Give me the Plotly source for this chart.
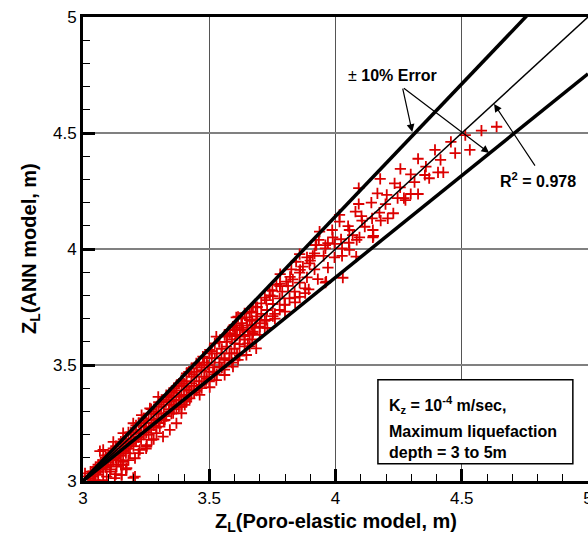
import plotly.graph_objects as go

# ---- data ----
poro_elastic_z = [
    # upper cloud
    4.514, 4.578, 4.638, 4.457, 4.532, 4.474, 4.394, 4.327, 4.416, 4.358, 4.257, 4.298,
    4.406, 4.427, 4.354, 4.371, 4.313, 4.234, 4.256, 4.298, 4.327, 4.246, 4.271,
    4.177, 4.092, 4.166, 4.203, 4.277, 4.142, 4.092, 4.198, 4.079, 4.174, 4.229, 4.103,
    4.145, 4.179, 4.207, 4.016, 4.016, 4.105, 4.050, 4.116, 4.148, 4.055, 3.987, 3.937,
    4.068, 4.095, 4.148, 3.989, 4.022, 4.084, 3.934, 4.053, 3.970, 3.996, 3.921, 3.960,
    4.026, 4.055, 3.910, 3.953, 3.996, 4.026, 4.082, 4.029, 3.963, 4.150,
    # middle band
    3.924, 3.960, 3.917, 3.858, 3.887, 3.844, 3.897, 3.871, 3.917, 3.825, 3.858, 3.781,
    3.887, 3.831, 3.805, 3.858, 3.960, 3.766, 3.812, 3.894, 3.739, 3.789, 3.838, 3.752,
    3.726, 3.779, 3.818, 3.858, 3.706, 3.752, 3.798, 3.684, 3.729, 3.779, 3.667, 3.706,
    3.752, 3.647, 3.686, 3.726, 3.607, 3.627, 3.667, 3.700, 3.594, 3.621, 3.653, 3.581,
    3.605, 3.640, 3.568, 3.673,
    3.673, 3.614, 3.640, 3.660, 3.607, 3.581, 3.634, 3.673, 3.621, 3.561, 3.528, 3.653,
    3.601, 3.686, 3.568, 3.522, 3.502, 3.548, 3.588, 3.647, 3.475, 3.522, 3.561, 3.614,
    3.449, 3.495, 3.541, 3.594, 3.430, 3.469, 3.515, 3.561, 3.410, 3.449, 3.489, 3.528,
    3.390, 3.430, 3.469, 3.502, 3.370, 3.410, 3.449, 3.462, 3.351, 3.390, 3.423, 3.331,
    3.370, 3.410, 3.311, 3.344, 3.390,
    # lower dense cloud
    3.410, 3.383, 3.351, 3.403, 3.357, 3.390, 3.298, 3.324, 3.272, 3.370, 3.304, 3.245,
    3.344, 3.291, 3.225, 3.317, 3.272, 3.199, 3.252, 3.225, 3.173, 3.186, 3.146, 3.206,
    3.120, 3.159, 3.080, 3.094, 3.133, 3.173, 3.067, 3.107, 3.153, 3.041, 3.060, 3.206,
    3.028, 3.094, 3.126, 3.008, 3.047, 3.080, 3.199, 3.153, 3.067, 3.252, 3.159,
    3.298, 3.265, 3.232, 3.199, 3.159, 3.120,
    # extra points filling the dense band
    3.02, 3.03, 3.04, 3.05, 3.06, 3.07, 3.08, 3.09, 3.10, 3.11, 3.12, 3.13, 3.14, 3.15,
    3.16, 3.17, 3.18, 3.19, 3.20, 3.21, 3.22, 3.23, 3.24, 3.25, 3.26, 3.27, 3.28, 3.29,
    3.30, 3.31, 3.32, 3.33, 3.34, 3.35, 3.36, 3.37, 3.38, 3.39, 3.40, 3.41, 3.42, 3.43,
    3.44, 3.45, 3.46, 3.47, 3.48, 3.49, 3.50, 3.51, 3.52, 3.53, 3.54, 3.55, 3.56, 3.57,
    3.58, 3.59, 3.60, 3.61, 3.62, 3.63, 3.64, 3.65, 3.66, 3.67, 3.68, 3.69, 3.70,
    3.05, 3.08, 3.10, 3.13, 3.16, 3.19, 3.22, 3.26, 3.30, 3.34, 3.38, 3.42, 3.46, 3.50,
    3.54, 3.58,
    3.05, 3.08, 3.11, 3.14, 3.17, 3.20, 3.23, 3.26, 3.29, 3.32, 3.35, 3.38, 3.41, 3.44,
    3.47, 3.50, 3.53, 3.56, 3.59, 3.62, 3.66, 3.72, 3.76, 3.80, 3.84, 3.88,
    3.74, 3.78, 3.82, 3.86, 3.90, 3.72, 3.76, 3.80, 3.84, 3.88, 3.93, 3.97,
    3.03, 3.06, 3.09, 3.12, 3.15, 3.18, 3.21, 3.24, 3.27, 3.30, 3.33, 3.36, 3.39, 3.42,
    3.45, 3.48, 3.51, 3.54, 3.57, 3.60, 3.63, 3.66, 3.69, 3.72, 3.75, 3.78,
    3.04, 3.07, 3.10, 3.13, 3.16, 3.19, 3.22, 3.25, 3.28, 3.31, 3.34, 3.37, 3.40, 3.43,
    3.46, 3.49, 3.52, 3.55, 3.58, 3.61, 3.64, 3.67, 3.70, 3.73,
    3.11, 3.15, 3.18, 3.22, 3.25, 3.28, 3.13, 3.17,
    3.06, 3.09, 3.12, 3.15, 3.18, 3.21, 3.24, 3.27, 3.30, 3.33, 3.36, 3.39, 3.12, 3.16,
    3.20, 3.24, 3.28, 3.32, 3.36, 3.40, 3.44, 3.48,
]
ann_z = [
    4.491, 4.510, 4.527, 4.462, 4.427, 4.413, 4.427, 4.389, 4.384, 4.355, 4.345, 4.322,
    4.330, 4.330, 4.319, 4.305, 4.288, 4.283, 4.266, 4.237, 4.237, 4.219, 4.219,
    4.302, 4.262, 4.240, 4.233, 4.211, 4.200, 4.194, 4.193, 4.161, 4.157, 4.154, 4.142,
    4.132, 4.122, 4.132, 4.147, 4.118, 4.122, 4.099, 4.096, 4.082, 4.082, 4.082, 4.075,
    4.060, 4.050, 4.050, 4.050, 4.042, 4.039, 4.039, 4.027, 4.025, 4.022, 4.017, 4.003,
    4.003, 3.996, 3.970, 3.970, 3.964, 3.970, 3.967, 3.876, 3.859, 4.056,
    4.017, 4.017, 3.981, 3.978, 3.964, 3.945, 3.938, 3.924, 3.912, 3.912, 3.898, 3.892,
    3.878, 3.869, 3.859, 3.855, 3.855, 3.845, 3.841, 3.826, 3.823, 3.816, 3.816, 3.797,
    3.780, 3.787, 3.787, 3.794, 3.766, 3.763, 3.759, 3.749, 3.737, 3.737, 3.726, 3.720,
    3.711, 3.705, 3.697, 3.694, 3.705, 3.680, 3.672, 3.665, 3.665, 3.651, 3.644, 3.637,
    3.625, 3.625, 3.622, 3.637,
    3.751, 3.708, 3.723, 3.694, 3.672, 3.651, 3.651, 3.644, 3.622, 3.629, 3.622, 3.593,
    3.593, 3.572, 3.579, 3.593, 3.565, 3.550, 3.550, 3.543, 3.536, 3.529, 3.522, 3.522,
    3.507, 3.500, 3.493, 3.493, 3.486, 3.478, 3.471, 3.457, 3.464, 3.450, 3.443, 3.435,
    3.435, 3.421, 3.414, 3.404, 3.409, 3.395, 3.389, 3.371, 3.385, 3.371, 3.356, 3.363,
    3.349, 3.342, 3.342, 3.328, 3.320,
    3.406, 3.363, 3.342, 3.328, 3.292, 3.292, 3.292, 3.263, 3.263, 3.249, 3.234, 3.234,
    3.220, 3.206, 3.206, 3.191, 3.177, 3.177, 3.155, 3.134, 3.148, 3.119, 3.119, 3.098,
    3.091, 3.083, 3.134, 3.069, 3.062, 3.055, 3.055, 3.040, 3.026, 3.040, 3.026, 3.019,
    3.019, 3.019, 3.012, 3.033, 3.004, 3.004, 3.014, 3.026, 3.129, 3.148, 3.070,
    3.363, 3.313, 3.284, 3.249, 3.206, 3.169,
    3.02, 3.01, 3.04, 3.05, 3.04, 3.08, 3.06, 3.10, 3.08, 3.12, 3.10, 3.14, 3.11, 3.16,
    3.13, 3.18, 3.15, 3.20, 3.17, 3.22, 3.19, 3.24, 3.21, 3.26, 3.23, 3.29, 3.25, 3.30,
    3.27, 3.32, 3.29, 3.35, 3.31, 3.36, 3.33, 3.39, 3.35, 3.41, 3.37, 3.43, 3.39, 3.45,
    3.41, 3.47, 3.43, 3.49, 3.45, 3.51, 3.47, 3.53, 3.49, 3.55, 3.51, 3.57, 3.53, 3.60,
    3.55, 3.61, 3.57, 3.63, 3.59, 3.66, 3.61, 3.67, 3.63, 3.69, 3.66, 3.71, 3.68,
    3.06, 3.09, 3.11, 3.15, 3.18, 3.21, 3.25, 3.29, 3.33, 3.37, 3.42, 3.47, 3.51, 3.55,
    3.60, 3.65,
    3.03, 3.05, 3.07, 3.09, 3.12, 3.15, 3.18, 3.20, 3.23, 3.26, 3.29, 3.32, 3.35, 3.38,
    3.40, 3.43, 3.46, 3.48, 3.51, 3.54, 3.58, 3.66, 3.70, 3.73, 3.77, 3.81,
    3.80, 3.84, 3.88, 3.91, 3.95, 3.69, 3.72, 3.76, 3.79, 3.83, 3.87, 3.92,
    3.04, 3.07, 3.11, 3.14, 3.17, 3.21, 3.24, 3.27, 3.31, 3.34, 3.37, 3.40, 3.43, 3.47,
    3.50, 3.53, 3.56, 3.60, 3.63, 3.66, 3.70, 3.73, 3.75, 3.79, 3.82, 3.85,
    3.02, 3.05, 3.08, 3.10, 3.13, 3.16, 3.19, 3.21, 3.24, 3.27, 3.30, 3.32, 3.35, 3.38,
    3.41, 3.44, 3.46, 3.49, 3.52, 3.55, 3.58, 3.61, 3.63, 3.66,
    3.05, 3.07, 3.09, 3.12, 3.14, 3.18, 3.03, 3.05,
    3.04, 3.06, 3.09, 3.11, 3.14, 3.17, 3.20, 3.22, 3.25, 3.28, 3.31, 3.33, 3.13, 3.17,
    3.21, 3.25, 3.29, 3.34, 3.38, 3.42, 3.46, 3.50,
]

# reference lines: 1:1 line and the +/-10% error envelope
one_to_one_x = [3.0, 5.0]
one_to_one_y = [3.0, 5.0]
upper_x = [3.0, 5.0]
upper_y = [3.0, 5.282]
lower_x = [3.0, 5.0]
lower_y = [3.0, 4.755]

tick_vals = [3, 3.5, 4, 4.5, 5]
tick_text = ["3", "3.5", "4", "4.5", "5"]

FONT = "Liberation Sans, Arial, Helvetica, sans-serif"

fig = go.Figure()
fig.add_trace(go.Scatter(x=poro_elastic_z, y=ann_z, mode="markers",
                         marker=dict(symbol="cross-thin", size=8, color="rgb(220,0,0)",
                                     line=dict(width=1.8, color="rgb(220,0,0)")),
                         showlegend=False))
fig.add_trace(go.Scatter(x=one_to_one_x, y=one_to_one_y, mode="lines",
                         line=dict(color="black", width=1.5), showlegend=False))
fig.add_trace(go.Scatter(x=upper_x, y=upper_y, mode="lines",
                         line=dict(color="black", width=3.5), showlegend=False))
fig.add_trace(go.Scatter(x=lower_x, y=lower_y, mode="lines",
                         line=dict(color="black", width=3.5), showlegend=False))

axis_common = dict(
    tickvals=tick_vals, ticktext=tick_text,
    ticks="inside", ticklen=12, tickwidth=3, tickcolor="black",
    showline=True, linewidth=3, linecolor="black",
    tickfont=dict(family=FONT, size=17, color="black"),
    minor=dict(dtick=0.1, ticks="inside", ticklen=7, tickwidth=1, tickcolor="black",
               showgrid=False),
    zeroline=False,
    automargin=False,
    ticklabeloverflow="allow",
)

fig.update_xaxes(range=[3, 5], showgrid=True, gridcolor="#555555", gridwidth=1,
                 mirror=True, **axis_common)
fig.update_yaxes(range=[3, 5], showgrid=True, gridcolor="#808080", gridwidth=1.5,
                 mirror=False, **axis_common)

fig.update_layout(
    width=588, height=541,
    margin=dict(l=83, r=0, t=17, b=60, autoexpand=False),
    paper_bgcolor="white", plot_bgcolor="white",
    font=dict(family=FONT, color="black"),
)

# axis titles
fig.add_annotation(text="<b>Z<sub>L</sub>(Poro-elastic model, m)</b>", xref="paper", yref="paper",
                   x=0.5, y=0, yshift=-41, xanchor="center", yanchor="middle",
                   showarrow=False, font=dict(family=FONT, size=20, color="black"))
fig.add_annotation(text="<b>Z<sub>L</sub>(ANN model, m)</b>", xref="paper", yref="paper",
                   x=0, xshift=-53, y=0.5, xanchor="center", yanchor="middle", textangle=-90,
                   showarrow=False, font=dict(family=FONT, size=20, color="black"))

# error label + arrows
fig.add_annotation(text="± <b>10% Error</b>", x=4.224, y=4.75, xref="x", yref="y",
                   showarrow=False, font=dict(family=FONT, size=16, color="black"))
fig.add_annotation(x=4.304, y=4.504, ax=4.265, ay=4.698, xref="x", yref="y",
                   axref="x", ayref="y", text="", showarrow=True, arrowhead=2,
                   arrowsize=1.3, arrowwidth=1.2, arrowcolor="black")
fig.add_annotation(x=4.609, y=4.414, ax=4.265, ay=4.698, xref="x", yref="y",
                   axref="x", ayref="y", text="", showarrow=True, arrowhead=2,
                   arrowsize=1.3, arrowwidth=1.2, arrowcolor="black")

# R^2 label + arrow
fig.add_annotation(text="<b>R<sup>2</sup> = 0.978</b>", x=4.802, y=4.297, xref="x", yref="y",
                   showarrow=False, font=dict(family=FONT, size=16, color="black"))
fig.add_annotation(x=4.628, y=4.625, ax=4.794, ay=4.353, xref="x", yref="y",
                   axref="x", ayref="y", text="", showarrow=True, arrowhead=2,
                   arrowsize=1.3, arrowwidth=1.2, arrowcolor="black")

# info box
fig.add_shape(type="rect", xref="paper", yref="paper", x0=0.584, x1=0.970, y0=0.037, y1=0.218,
              line=dict(color="black", width=1.5), fillcolor="white", layer="above")
fig.add_annotation(text="<b>K<sub>z</sub> = 10<sup>-4</sup> m/sec,</b>", xref="paper", yref="paper",
                   x=0.602, y=0.164, xanchor="left", yanchor="middle", showarrow=False,
                   font=dict(family=FONT, size=16, color="black"))
fig.add_annotation(text="<b>Maximum liquefaction<br>depth = 3 to 5m</b>", xref="paper", yref="paper",
                   x=0.602, y=0.084, xanchor="left", yanchor="middle", align="left", showarrow=False,
                   font=dict(family=FONT, size=16, color="black"))

# remove the default 8px page margin so the figure sits at the window's top-left corner
fig.write_html("out.html", config={"displayModeBar": False},
               post_script="document.body.style.margin='0px';document.body.style.overflow='hidden';")
